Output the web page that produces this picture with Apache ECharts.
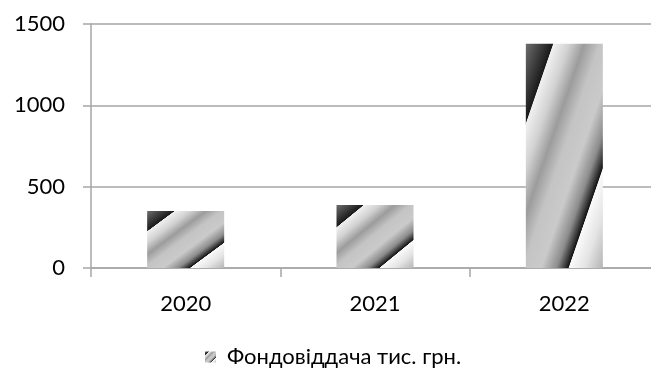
<!DOCTYPE html>
<html>
<head>
<meta charset="utf-8">
<script src="https://cdn.jsdelivr.net/npm/echarts@6/dist/echarts.min.js"></script>
<style>
  html, body { margin: 0; padding: 0; background: #ffffff; }
  #chart { width: 651px; height: 372px; }
</style>
</head>
<body>
<div id="chart"></div>
<script>
// Asset return per year, thousand UAH
const years = ['2020', '2021', '2022'];
const assetReturn = [350, 388, 1378];
const seriesName = 'Фондовіддача тис. грн.';
const yTickLabels = ['0', '500', '1000', '1500'];

const FONT = 'Lato, "Noto Sans", sans-serif';
const AXIS_GRAY = '#a6a6a6';
const BAR_W = 77;

// Silver stripe ramp, running from a bar's top-left corner to its bottom-right corner
const stripeStops = [
  [0.00, '#6e6e6e'], [0.175, '#1a1a1a'], [0.18, '#f0f0f0'], [0.28, '#d2d2d2'],
  [0.38, '#9c9c9c'], [0.48, '#c4c4c4'], [0.60, '#cacaca'], [0.70, '#8c8c8c'],
  [0.775, '#141414'], [0.78, '#fafafa'], [0.88, '#e4e4e4'], [1.00, '#b4b4b4']
];

// Stripes run parallel to the rectangle's anti-diagonal, so in pixels the
// gradient vector points along (h, w); expressed in box fractions below.
function stripeFill(w, h) {
  const d = h * h + w * w;
  return new echarts.graphic.LinearGradient(
    0, 0, 2 * h * h / d, 2 * w * w / d,
    stripeStops.map(([offset, color]) => ({ offset, color }))
  );
}

const chart = echarts.init(document.getElementById('chart'), null, { renderer: 'canvas' });

const yMin = Number(yTickLabels[0]);
const yMax = Number(yTickLabels[yTickLabels.length - 1]);
const yStep = Number(yTickLabels[1]) - yMin;

chart.setOption({
  animation: false,
  backgroundColor: '#ffffff',
  textStyle: { fontFamily: FONT },
  // plot area runs a little past the right edge of the canvas
  grid: { left: 91, width: 568, top: 24, bottom: 104, containLabel: false, outerBoundsMode: 'none' },
  legend: {
    data: [seriesName],
    left: 205,
    top: 346,
    padding: 0,
    itemWidth: 11,
    itemHeight: 11,
    icon: 'rect',
    itemStyle: { borderWidth: 0 },
    textStyle: { fontFamily: FONT, fontSize: 22, color: '#000000', padding: [0, 0, 0, 6] }
  },
  xAxis: {
    type: 'category',
    data: years,
    boundaryGap: true,
    axisLine: { show: true, lineStyle: { color: AXIS_GRAY, width: 1.5 } },
    axisTick: { show: true, length: 9, interval: 0, alignWithLabel: false, lineStyle: { color: AXIS_GRAY, width: 1.5 } },
    axisLabel: { margin: 25, fontSize: 22, color: '#000000', fontFamily: FONT },
    splitLine: { show: false }
  },
  yAxis: {
    type: 'value',
    min: yMin,
    max: yMax,
    interval: yStep,
    axisLine: { show: true, lineStyle: { color: AXIS_GRAY, width: 1.5 } },
    axisTick: { show: true, length: 8, lineStyle: { color: AXIS_GRAY, width: 1.5 } },
    axisLabel: {
      margin: 26, fontSize: 22, color: '#000000', fontFamily: FONT,
      formatter: v => yTickLabels[Math.round((v - yMin) / yStep)]
    },
    splitLine: { show: true, lineStyle: { color: AXIS_GRAY, width: 1.5 } }
  },
  series: [{
    name: seriesName,
    type: 'bar',
    barWidth: BAR_W,
    itemStyle: { color: stripeFill(1, 1) },
    data: assetReturn
  }]
});

// Give each bar a ramp fitted to its own rendered height
const basePx = chart.convertToPixel({ yAxisIndex: 0 }, 0);
chart.setOption({
  series: [{
    data: assetReturn.map(v => {
      const h = Math.abs(basePx - chart.convertToPixel({ yAxisIndex: 0 }, v));
      return { value: v, itemStyle: { color: stripeFill(BAR_W, h) } };
    })
  }]
});
</script>
</body>
</html>
